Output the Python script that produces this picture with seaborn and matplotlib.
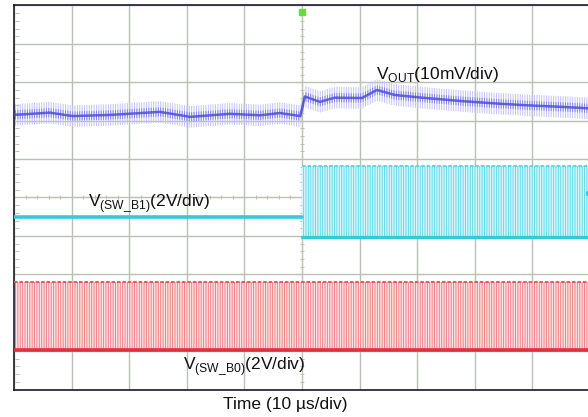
import numpy as np
import pandas as pd
import matplotlib
matplotlib.use('Agg')
import matplotlib.pyplot as plt
import seaborn as sns


# Scope screen: 10 x 10 divisions, trigger at the centre
n_div = 10
trigger_div = 5.0

# V_OUT trace (centre of the ripple band), read per time division
vout_t = [0.0, 0.62, 1.02, 1.67, 2.53, 3.06, 3.75, 4.27, 4.62, 4.97,
          5.05, 5.31, 5.57, 6.04, 6.30, 6.61, 7.08, 7.78, 8.35, 8.92, 9.51, 10.0]
vout_v = [7.15, 7.21, 7.12, 7.15, 7.23, 7.10, 7.18, 7.14, 7.20, 7.12,
          7.63, 7.49, 7.60, 7.59, 7.80, 7.67, 7.60, 7.51, 7.45, 7.40, 7.36, 7.32]
vout_ripple_outer = 0.28
vout_ripple_inner = 0.12

# V(SW_B1): idle before the trigger, switching after
b1_idle = 4.48
b1_low = 3.98
b1_high = 5.83

# V(SW_B0): switching over the whole record
b0_low = 1.03
b0_high = 2.81

vout_df = pd.DataFrame({'t': vout_t, 'v': vout_v})

sns.set_theme(style='white')
plt.rcParams['font.family'] = ['Liberation Sans', 'DejaVu Sans']
plt.rcParams['mathtext.fontset'] = 'custom'
plt.rcParams['mathtext.rm'] = 'Liberation Sans'
plt.rcParams['hatch.linewidth'] = 0.7

fig = plt.figure(figsize=(5.88, 4.17), dpi=100)
ax = fig.add_axes([14 / 588, 1 - 389.5 / 417, 576 / 588, 384 / 417])
ax.set_xlim(0, n_div)
ax.set_ylim(0, n_div)

# Graticule
grid_col = '#b9c1b3'
ax.set_xticks(range(n_div + 1))
ax.set_yticks(range(n_div + 1))
ax.grid(True, color=grid_col, linewidth=1.0)
ax.tick_params(length=0, labelbottom=False, labelleft=False)
minor = np.arange(0, n_div + 0.01, 0.2)
ax.plot(minor, np.full_like(minor, 5.0), ls='none', marker='|',
        ms=3, mew=0.7, color=grid_col, zorder=1)
ax.plot(np.full_like(minor, trigger_div), minor, ls='none', marker='_',
        ms=3.5, mew=0.7, color=grid_col, zorder=1)
ax.plot(np.full_like(minor, 0.05), minor, ls='none', marker='_',
        ms=3, mew=0.7, color=grid_col, zorder=1)
for side in ['left', 'top', 'bottom']:
    ax.spines[side].set_color('#1a1a2a')
    ax.spines[side].set_linewidth(1.2)
ax.spines['right'].set_visible(False)

# V(SW_B0) - red switching band
ax.fill_between([0, n_div], b0_low, b0_high, facecolor='#fde3e3',
                edgecolor='#f07f86', hatch='|' * 7, linewidth=0, zorder=2)
sns.lineplot(x=[0, n_div], y=[b0_high, b0_high], color='#e0505a',
             linewidth=1.3, linestyle=(0, (2, 1)), ax=ax, zorder=3)
sns.lineplot(x=[0, n_div], y=[b0_low, b0_low], color='#e0323c',
             linewidth=2.6, ax=ax, zorder=3)

# V(SW_B1) - cyan, idle then switching
sns.lineplot(x=[0, trigger_div], y=[b1_idle, b1_idle], color='#36c8dc',
             linewidth=2.6, ax=ax, zorder=3)
ax.fill_between([trigger_div, n_div], b1_low, b1_high, facecolor='#d8f6fa',
                edgecolor='#62dbe8', hatch='|' * 7, linewidth=0, zorder=2)
sns.lineplot(x=[trigger_div, n_div], y=[b1_high, b1_high], color='#55d4e4',
             linewidth=1.3, linestyle=(0, (2, 1)), ax=ax, zorder=3)
sns.lineplot(x=[trigger_div, n_div], y=[b1_low, b1_low], color='#36c8dc',
             linewidth=2.4, ax=ax, zorder=3)

# V_OUT - blue ripple band around the trace
ax.fill_between(vout_df['t'], vout_df['v'] - vout_ripple_outer,
                vout_df['v'] + vout_ripple_outer, facecolor='none',
                edgecolor='#c2c2f6', hatch='|' * 7, linewidth=0, zorder=2)
ax.fill_between(vout_df['t'], vout_df['v'] - vout_ripple_inner,
                vout_df['v'] + vout_ripple_inner, facecolor='none',
                edgecolor='#8484e8', hatch='|' * 7, linewidth=0, zorder=2)
sns.lineplot(data=vout_df, x='t', y='v', color='#4646d8', linewidth=1.8,
             alpha=0.8, ax=ax, zorder=3)
ax.set_xlabel('')
ax.set_ylabel('')

# Trigger and channel markers
ax.plot([trigger_div], [9.82], marker='s', ms=4.5, color='#66dd33',
        ls='none', clip_on=False, zorder=5)
ax.plot([n_div - 0.03], [5.12], marker='o', ms=3, color='#36c8dc',
        ls='none', clip_on=False, zorder=5)

# Labels
ax.text(6.28, 8.08, r'V$_{\mathrm{OUT}}$(10mV/div)', fontsize=12.5,
        ha='left', va='baseline', color='#111111', zorder=6)
ax.text(1.28, 4.75, r'V$_{\mathrm{(SW\_B1)}}$(2V/div)', fontsize=12.5,
        ha='left', va='baseline', color='#111111', zorder=6)
ax.text(2.93, 0.5, r'V$_{\mathrm{(SW\_B0)}}$(2V/div)', fontsize=12.5,
        ha='left', va='baseline', color='#111111', zorder=6)
fig.text(285 / 588, 1 - 404 / 417, 'Time (10 µs/div)', fontsize=12.5,
         ha='center', va='center', color='#111111')

fig.savefig('out.png', dpi=100)
